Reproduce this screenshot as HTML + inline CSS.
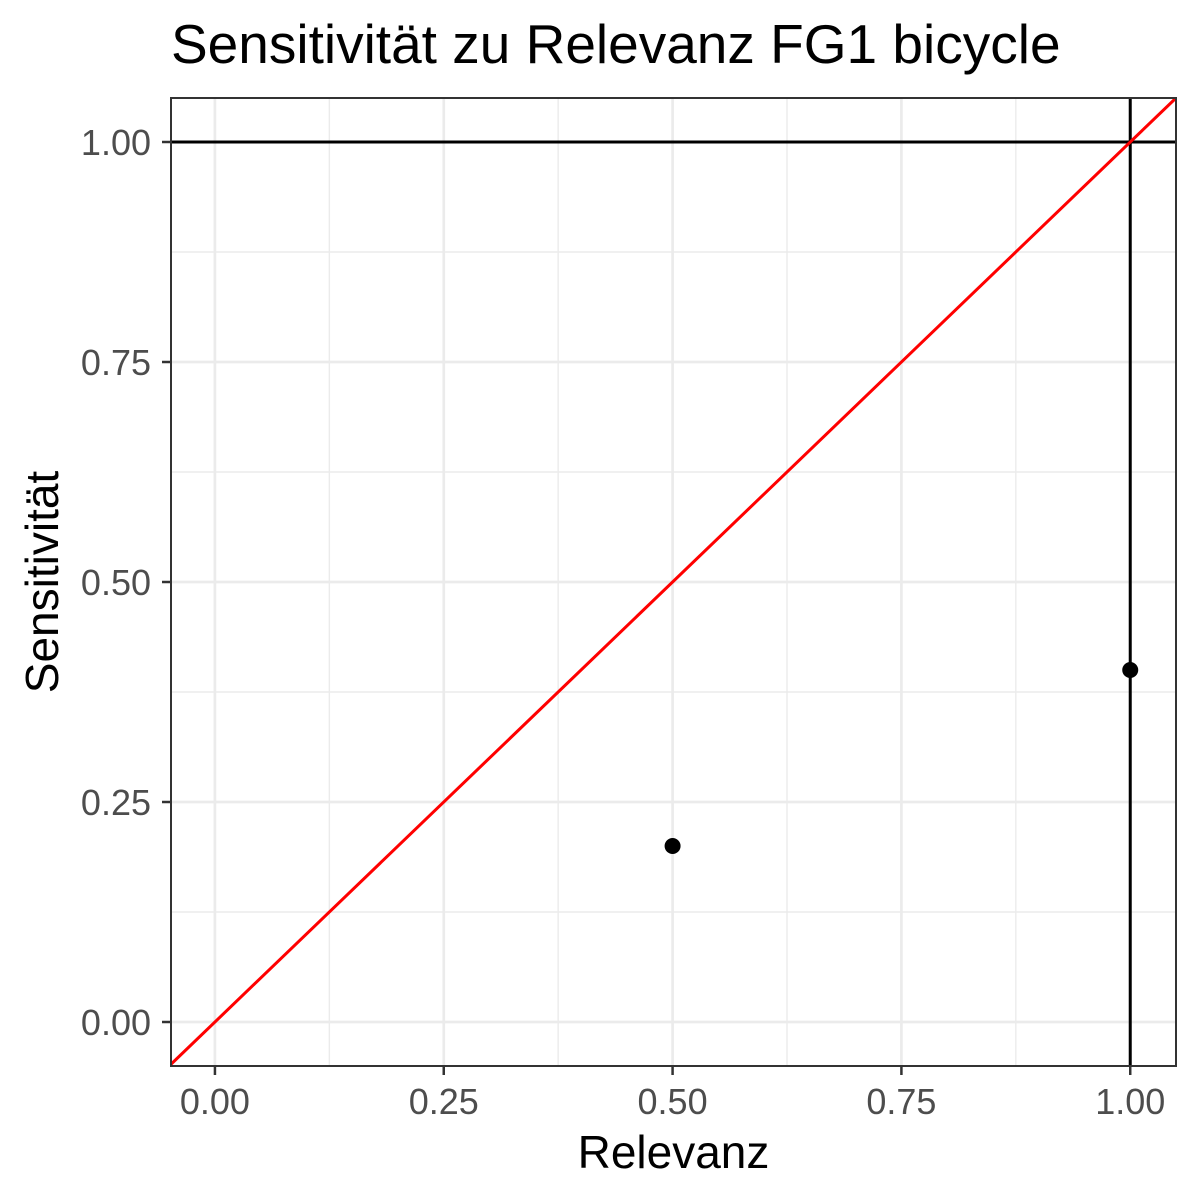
<!DOCTYPE html>
<html><head><meta charset="utf-8"><style>body{margin:0;background:#fff}svg{display:block;font-family:"Liberation Sans",sans-serif}</style></head>
<body>
<svg id="chart" width="1200" height="1200" xmlns="http://www.w3.org/2000/svg"></svg>
<script>
const xTicks=[0,0.25,0.5,0.75,1];
const yTicks=[0,0.25,0.5,0.75,1];
const xTickLabels=["0.00","0.25","0.50","0.75","1.00"];
const yTickLabels=["0.00","0.25","0.50","0.75","1.00"];
const pointX=[0.5,1.0];
const pointY=[0.2,0.4];
const hlineY=[1];
const vlineX=[1];
const ablineSlope=1, ablineIntercept=0;
const L=171,R=1176,T=98,B=1066;
const xMin=-0.048,xMax=1.05,yMin=-0.05,yMax=1.05;
const sx=v=>L+(v-xMin)/(xMax-xMin)*(R-L);
const sy=v=>B-(v-yMin)/(yMax-yMin)*(B-T);
const svg=document.getElementById('chart');
const NS='http://www.w3.org/2000/svg';
function mk(tag,attrs,parent){const e=document.createElementNS(NS,tag);for(const k in attrs)e.setAttribute(k,attrs[k]);(parent||svg).appendChild(e);return e;}
const grid=mk('g',{});


for(let i=0;i<xTicks.length;i++){
  mk('line',{x1:sx(xTicks[i]),x2:sx(xTicks[i]),y1:T,y2:B,stroke:'#ebebeb','stroke-width':2.7},grid);
  if(i<xTicks.length-1){const m=(xTicks[i]+xTicks[i+1])/2;mk('line',{x1:sx(m),x2:sx(m),y1:T,y2:B,stroke:'#ebebeb','stroke-width':1.4},grid);}
}
for(let i=0;i<yTicks.length;i++){
  mk('line',{y1:sy(yTicks[i]),y2:sy(yTicks[i]),x1:L,x2:R,stroke:'#ebebeb','stroke-width':2.7},grid);
  if(i<yTicks.length-1){const m=(yTicks[i]+yTicks[i+1])/2;mk('line',{y1:sy(m),y2:sy(m),x1:L,x2:R,stroke:'#ebebeb','stroke-width':1.4},grid);}
}
const clip=mk('clipPath',{id:'pc'});mk('rect',{x:L,y:T,width:R-L,height:B-T},clip);
const marks=mk('g',{'clip-path':'url(#pc)'});


hlineY.forEach(v=>{const l=mk('line',{x1:L,x2:R,y1:sy(v),y2:sy(v),stroke:'#000','stroke-width':3},marks);

});
vlineX.forEach(v=>{const l=mk('line',{x1:sx(v),x2:sx(v),y1:T,y2:B,stroke:'#000','stroke-width':3},marks);

});
const ab=mk('line',{x1:sx(xMin),y1:sy(ablineIntercept+ablineSlope*xMin),x2:sx(xMax),y2:sy(ablineIntercept+ablineSlope*xMax),stroke:'#ff0000','stroke-width':3},marks);


for(let i=0;i<pointX.length;i++){const c=mk('circle',{cx:sx(pointX[i]),cy:sy(pointY[i]),r:8,fill:'#000'},marks);

}
const border=mk('rect',{x:L,y:T,width:R-L,height:B-T,fill:'none',stroke:'#333','stroke-width':2});


for(let i=0;i<xTicks.length;i++){
  const x=sx(xTicks[i]);mk('line',{x1:x,x2:x,y1:B,y2:B+9,stroke:'#333','stroke-width':2.5});
  const t=mk('text',{x:x,y:B+48,'text-anchor':'middle','font-size':36,fill:'#4d4d4d'});t.textContent=xTickLabels[i];
  
  
}
for(let i=0;i<yTicks.length;i++){
  const y=sy(yTicks[i]);mk('line',{x1:L-9,x2:L,y1:y,y2:y,stroke:'#333','stroke-width':2.5});
  const t=mk('text',{x:L-20,y:y+13,'text-anchor':'end','font-size':36,fill:'#4d4d4d'});t.textContent=yTickLabels[i];
  
  
}
let t=mk('text',{x:(L+R)/2,y:1168,'text-anchor':'middle','font-size':46,fill:'#000'});t.textContent='Relevanz';


t=mk('text',{x:0,y:0,transform:`translate(58,${(T+B)/2}) rotate(-90)`,'text-anchor':'middle','font-size':46,fill:'#000'});t.textContent='Sensitivität';


t=mk('text',{x:171,y:63,'font-size':55,fill:'#000'});t.textContent='Sensitivität zu Relevanz FG1 bicycle';


</script>
</body></html>
